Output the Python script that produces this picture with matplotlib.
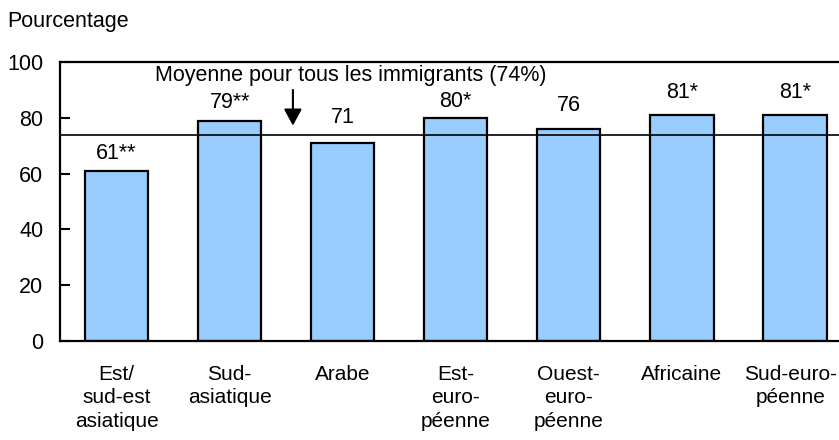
import matplotlib.pyplot as plt
import matplotlib.transforms as mtransforms

plt.rcParams['font.family'] = ['Liberation Sans', 'DejaVu Sans']

categories = ['Est/\nsud-est\nasiatique', 'Sud-\nasiatique', 'Arabe', 'Est-\neuro-\npéenne',
              'Ouest-\neuro-\npéenne', 'Africaine', 'Sud-euro-\npéenne']
values = [61, 79, 71, 80, 76, 81, 81]
value_labels = ['61**', '79**', '71', '80*', '76', '81*', '81*']
average = 74
average_label = 'Moyenne pour tous les immigrants (74%)'
y_ticks = [0, 20, 40, 60, 80, 100]

FS = 15.5
# gap (points) between bar top and its value label, as placed in the original
label_pads = [5, 5.8, 10.8, 4.3, 9.4, 8.6, 8.6]

fig = plt.figure(figsize=(8.39, 4.4), dpi=100)
ax = fig.add_axes([60 / 839, 1 - 341 / 440, 779 / 839, 279 / 440])

x = range(len(categories))
ax.bar(x, values, width=0.56, color='#99CCFF', edgecolor='black', linewidth=1.6, zorder=2)
for xi, v, lab, pad in zip(x, values, value_labels, label_pads):
    ax.annotate(lab, (xi, v), xytext=(0, pad), textcoords='offset points',
                ha='center', va='bottom', fontsize=FS)

ax.axhline(average, color='black', linewidth=1.2, zorder=3)
ax.text(2.07, 95, average_label, ha='center', va='center', fontsize=FS)
ax.annotate('', xy=(1.56, 77.2), xytext=(1.56, 90),
            arrowprops=dict(arrowstyle='-|>,head_length=1.0,head_width=0.54',
                            mutation_scale=10, shrinkA=0, shrinkB=0,
                            color='black', lw=1.5))

ax.set_xlim(-0.5, 6.39)
ax.set_ylim(0, 100)
ax.set_yticks(y_ticks)
ax.set_xticks(list(x))
ax.set_xticklabels(categories, fontsize=15, linespacing=1.3, va='top')
ax.tick_params(axis='x', length=0, pad=17)
ax.tick_params(axis='y', direction='in', length=7, width=1.5, labelsize=FS, pad=12)
for side in ['left', 'bottom', 'top']:
    ax.spines[side].set_linewidth(1.6)
ax.spines['right'].set_visible(False)

# keep the last category label inside the figure edge
last = ax.get_xticklabels()[-1]
last.set_transform(last.get_transform() + mtransforms.ScaledTranslation(-4 / 100, 0, fig.dpi_scale_trans))

fig.text(7 / 839, 1 - 22 / 440, 'Pourcentage', fontsize=FS, va='center', ha='left')

plt.savefig('out.png', dpi=100)
